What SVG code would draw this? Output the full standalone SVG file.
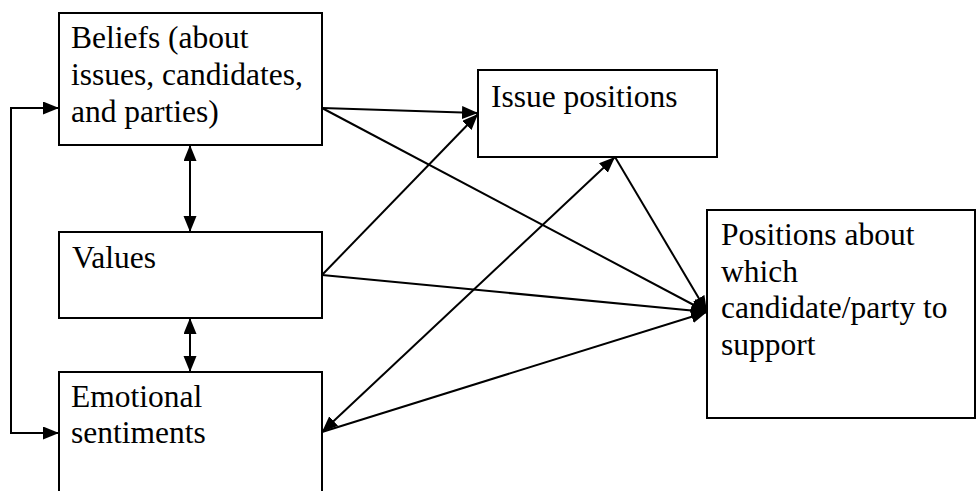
<svg xmlns="http://www.w3.org/2000/svg" width="976" height="491" viewBox="0 0 976 491">
  <style>
    .box { fill: #ffffff; stroke: #000000; stroke-width: 2; }
    .lbl { font-family: "Liberation Serif", "Times New Roman", serif; font-size: 31.5px; fill: #000000; }
    .link { fill: none; stroke: #000000; stroke-width: 2; }
    .one { marker-end: url(#head); }
    .two { marker-start: url(#head); marker-end: url(#head); }
  </style>
  <defs>
    <marker id="head" markerUnits="userSpaceOnUse" markerWidth="17" markerHeight="14" refX="16" refY="6.5" orient="auto-start-reverse">
      <path d="M0,0 L16,6.5 L0,13 Z" fill="#000000"/>
    </marker>
  </defs>

  <g id="beliefs">
    <rect class="box" x="59" y="13" width="263" height="132"/>
    <text class="lbl" x="71" y="48">Beliefs (about</text>
    <text class="lbl" x="71" y="85">issues, candidates,</text>
    <text class="lbl" x="71" y="122">and parties)</text>
  </g>

  <g id="values">
    <rect class="box" x="59" y="232" width="263" height="86"/>
    <text class="lbl" x="72" y="268">Values</text>
  </g>

  <g id="emotional-sentiments">
    <rect class="box" x="59" y="372" width="263" height="130"/>
    <text class="lbl" x="71" y="407">Emotional</text>
    <text class="lbl" x="71" y="443">sentiments</text>
  </g>

  <g id="issue-positions">
    <rect class="box" x="478" y="70" width="239" height="87"/>
    <text class="lbl" x="491" y="107">Issue positions</text>
  </g>

  <g id="support-positions">
    <rect class="box" x="707" y="210" width="268" height="208"/>
    <text class="lbl" x="721" y="245">Positions about</text>
    <text class="lbl" x="721" y="282">which</text>
    <text class="lbl" x="721" y="318">candidate/party to</text>
    <text class="lbl" x="721" y="355">support</text>
  </g>

  <g id="connectors">
    <!-- feedback loop on the left: emotional sentiments and beliefs -->
    <polyline class="link" points="43,108 11,108 11,433 43,433"/>
    <line class="link one" x1="43" y1="108" x2="59" y2="108"/>
    <line class="link one" x1="43" y1="433" x2="59" y2="433"/>

    <!-- vertical two-way links between the left boxes -->
    <line class="link two" x1="190" y1="145" x2="190" y2="232"/>
    <line class="link two" x1="190" y1="318" x2="190" y2="372"/>

    <!-- into issue positions -->
    <line class="link one" x1="322" y1="108" x2="478" y2="113"/>
    <line class="link one" x1="322" y1="275" x2="478" y2="114"/>

    <!-- issue positions and emotional sentiments, both ways -->
    <line class="link two" x1="615" y1="157" x2="322" y2="432"/>

    <!-- into positions about which candidate/party to support -->
    <line class="link one" x1="322" y1="108" x2="707" y2="312"/>
    <line class="link one" x1="322" y1="275" x2="707" y2="312"/>
    <line class="link one" x1="322" y1="432" x2="707" y2="312"/>
    <line class="link one" x1="615" y1="157" x2="707" y2="312"/>
  </g>
</svg>
